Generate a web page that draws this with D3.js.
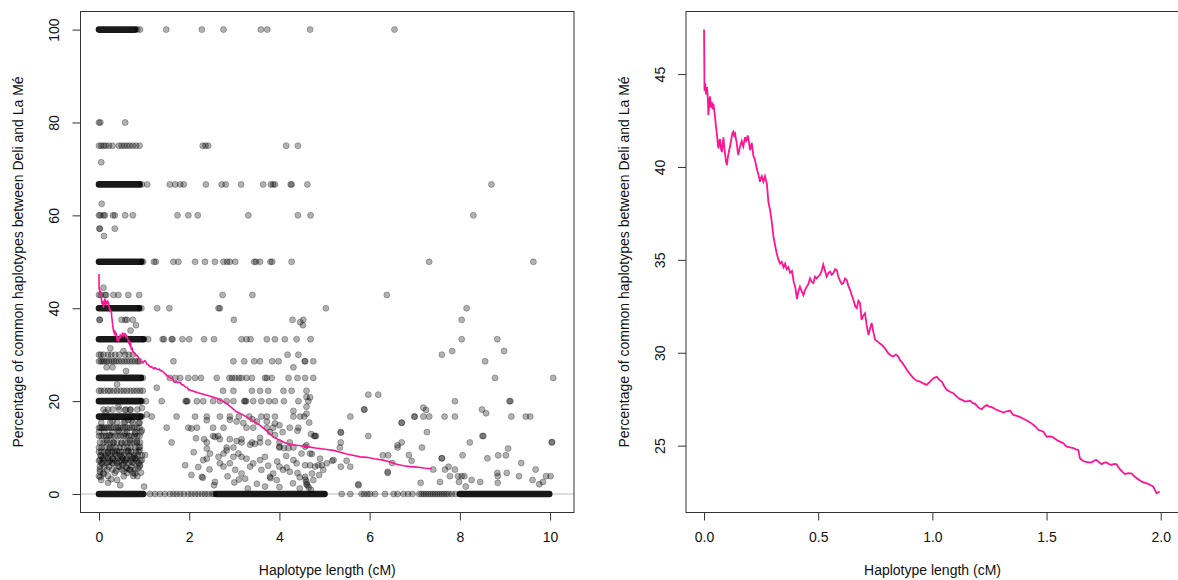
<!DOCTYPE html>
<html>
  <head>
    <meta charset="utf-8">
    <script src="https://d3js.org/d3.v7.min.js"></script>
    <style>
      body { margin: 0; background: #fff; }
      text { font-family: "Liberation Sans", Arial, sans-serif; font-size: 14px; fill: #111; }
    </style>
  </head>
  <body>
    <div id="chart"></div>
    <script>
      // dense stacks of overlapping observations: [percentage, from cM, to cM]
      const stacks = [
        [100, 0, 0.8], [66.67, 0, 0.9], [50, 0, 0.93], [40, 0, 0.88], [33.33, 0, 0.98],
        [25, 0, 0.93], [20, 0, 0.92], [16.67, 0, 0.92], [0, 0, 0.98], [0, 2.6, 5.0], [0, 8.0, 9.98]
      ];

      // points sitting on the common percentage levels
      const rowPct = [100, 80, 75, 71.43, 66.67, 62.5, 60, 57.14, 55.56, 50, 44.44, 42.86, 40, 37.5, 36.36,
        33.33, 30.77, 30, 28.57, 27.27, 25, 22.22, 20, 18.18, 16.67, 15.38, 14.29, 13.33, 12.5, 11.11, 10,
        9.09, 8.33, 7.69, 7.14, 6.67, 5.88, 5.26, 4.55, 3.85, 3.03, 0];
      const rowCM = [
        [0.85, 0.91, 1.49, 2.28, 2.76, 3.59, 3.73, 4.68, 6.55],
        [0, 0.03, 0.58],
        [0, 0.05, 0.1, 0.15, 0.22, 0.3, 0.44, 0.5, 0.56, 0.62, 0.68, 0.75, 0.82, 0.9, 2.3, 2.36, 2.42, 4.15, 4.41],
        [0.05],
        [0.95, 1.07, 1.57, 1.69, 1.8, 1.88, 2.37, 2.72, 2.81, 3.15, 3.64, 3.81, 3.86, 3.9, 4.25, 4.27, 4.62, 8.7],
        [0.06],
        [0, 0.03, 0.1, 0.13, 0.31, 0.35, 0.58, 0.75, 1.74, 1.98, 2.19, 3.31, 4.41, 4.69, 8.3],
        [0.01, 0.02, 0.35],
        [0.11],
        [0.95, 0.98, 1.22, 1.26, 1.65, 1.76, 2.13, 2.35, 2.57, 2.76, 2.84, 2.9, 3.02, 3.44, 3.48, 3.57, 3.8, 3.84, 4.27, 7.32, 9.63],
        [0.1],
        [0, 0.04, 0.13, 0.16, 0.32, 0.43, 0.65, 0.89, 2.74, 3.4, 6.38],
        [0.9, 0.94, 1.29, 1.56, 2.65, 2.68, 5.03, 8.15],
        [0.01, 0.02, 0.5, 0.58, 0.62, 0.75, 2.99, 4.29, 4.53, 8.04],
        [0.82, 4.52],
        [1.0, 1.09, 1.41, 1.44, 1.61, 1.63, 1.85, 2.0, 2.33, 2.55, 3.16, 3.27, 3.36, 3.72, 3.9, 4.12, 4.38, 4.69, 8.04, 8.83],
        [0.54, 7.83, 8.98],
        [0, 0.04, 0.1, 0.2, 0.27, 0.36, 0.45, 0.58, 0.66, 0.75, 4.18, 4.42, 7.6],
        [0, 0.04, 0.08, 0.12, 0.17, 0.22, 0.28, 0.33, 0.38, 0.44, 0.5, 0.56, 0.62, 0.68, 0.74, 0.8, 0.86, 0.9,
          1.65, 2.98, 3.22, 3.44, 3.57, 3.84, 3.98, 4.57, 4.75, 8.56],
        [0.17, 0.3, 4.31],
        [0.97, 1.57, 1.69, 1.8, 1.98, 2.13, 2.26, 2.61, 2.89, 2.95, 3.02, 3.1, 3.16, 3.27, 3.39, 3.68, 3.72, 3.83,
          4.2, 4.4, 4.57, 4.75, 8.78, 10.07],
        [0, 0.05, 0.12, 0.2, 0.25, 0.33, 0.4, 0.48, 0.55, 0.62, 0.7, 0.77, 0.84, 0.91, 0.97, 2.75, 2.98, 3.39,
          3.57, 3.75, 4.09, 4.27, 4.6],
        [0.95, 1.04, 1.39, 1.92, 1.94, 1.96, 2.17, 2.31, 2.53, 2.68, 2.83, 2.98, 3.22, 3.24, 3.26, 3.42, 3.6, 3.77,
          3.9, 4.1, 4.42, 4.64, 7.89, 9.1, 9.12],
        [0.1, 0.2, 0.3, 0.45, 0.6, 0.7, 0.85, 5.88, 8.49],
        [0.95, 1.17, 1.72, 2.13, 2.39, 2.68, 2.9, 3.1, 3.33, 3.6, 3.72, 3.9, 4.31, 4.46, 4.55, 5.57, 6.99, 7.0,
          7.19, 7.32, 7.66, 7.89, 9.14, 9.46, 9.56],
        [0.05, 0.25, 0.4, 0.55, 0.75, 0.9, 4.66, 6.71],
        [0, 0.03, 0.06, 0.1, 0.14, 0.18, 0.22, 0.27, 0.32, 0.38, 0.43, 0.48, 0.53, 0.58, 0.63, 0.68, 0.73, 0.78,
          0.84, 0.9, 1.5, 1.98, 2.17, 2.53, 2.76, 3.27, 3.42, 3.72, 3.86, 4.23, 4.42],
        [0, 0.12, 0.3, 0.45, 0.62, 0.8, 0.93, 3.79, 4.07, 5.36, 7.27],
        [0, 0.05, 0.1, 0.16, 0.22, 0.28, 0.35, 0.42, 0.48, 0.55, 0.6, 0.66, 0.72, 0.78, 0.85, 0.9, 2.53, 2.64,
          4.77, 4.79, 4.81, 5.97, 8.5, 8.52],
        [0.02, 0.1, 0.17, 0.25, 0.32, 0.4, 0.5, 0.58, 0.64, 0.7, 0.78, 0.84, 0.91, 1.61, 2.39, 3.16, 3.39, 3.57,
          3.75, 4.0, 4.23, 5.36, 6.71, 8.22, 10.04],
        [0, 0.06, 0.14, 0.24, 0.3, 0.38, 0.46, 0.55, 0.63, 0.7, 0.8, 0.88, 2.83, 2.98, 4.0, 4.31, 5.34, 6.62, 7.16],
        [0, 0.05, 0.12, 0.2, 0.28, 0.35, 0.45, 0.5, 0.6, 0.65, 0.72, 0.82, 0.88],
        [0.03, 0.15, 0.25, 0.38, 0.47, 0.55, 0.68, 0.78, 0.86, 0.95, 6.29, 6.41, 8.06, 8.85, 9.02],
        [0.08, 0.2, 0.3, 0.42, 0.52, 0.62, 0.75, 0.8, 7.6, 8.61],
        [0, 0.1, 0.24, 0.36, 0.5, 0.58, 0.7, 0.83, 0.92, 5.17, 5.49, 6.93],
        [0.05, 0.18, 0.3, 0.4, 0.55, 0.65, 0.78, 0.88, 6.5, 9.36],
        [0.12, 0.22, 0.45, 0.6, 0.72, 0.9, 5.36, 5.57, 7.75],
        [0.02, 0.3, 0.5, 0.68, 0.8, 7.41, 7.67, 7.89, 9.68],
        [0.1, 0.35, 0.62, 0.75, 6.4, 8.83, 9.04],
        [0, 0.2, 0.55, 0.85, 7.78, 7.96, 8.04, 8.1, 8.84, 9.31, 9.91, 10.01],
        [0.05, 0.4, 8.26, 9.61],
        [1.13, 1.24, 1.35, 1.46, 1.57, 1.65, 1.72, 1.8, 1.88, 1.98, 2.05, 2.13, 2.2, 2.28, 2.35, 2.42, 2.5, 2.55,
          5.38, 5.57, 5.82, 5.88, 5.95, 6.01, 6.12, 6.34, 6.53, 6.62, 6.75, 6.85, 6.95, 7.1, 7.15, 7.2, 7.25, 7.3,
          7.35, 7.4, 7.45, 7.5, 7.55, 7.6, 7.65, 7.7, 7.75, 7.82, 7.9]
      ];

      // points off the common levels: [cM, percentage]
      const loose = [
        [0.02, 7.3], [0.02, 5.9], [0.02, 4.8], [0.03, 3.7], [0.05, 8.2], [0.08, 6.5], [0.1, 4.3], [0.12, 7.8],
        [0.17, 11.6], [0.18, 5.2], [0.2, 8.8], [0.22, 6.9], [0.24, 9.8], [0.24, 12.7], [0.27, 3.2], [0.3, 7.6],
        [0.32, 6.6], [0.32, 11.1], [0.35, 8.7], [0.38, 5.0], [0.4, 9.2], [0.43, 5.9], [0.43, 13.7], [0.43, 18.8],
        [0.45, 7.1], [0.47, 1.9], [0.5, 8.0], [0.5, 10.9], [0.52, 6.3], [0.55, 4.9], [0.58, 13.0], [0.58, 15.5],
        [0.58, 18.1], [0.6, 7.4], [0.62, 5.5], [0.65, 9.3], [0.69, 5.2], [0.69, 11.6], [0.69, 18.1], [0.72, 8.0],
        [0.72, 15.8], [0.74, 6.8], [0.76, 3.9], [0.8, 4.4], [0.8, 13.0], [0.82, 7.7], [0.84, 11.3], [0.86, 5.6],
        [0.9, 9.4], [0.91, 6.2], [0.91, 10.2], [0.93, 4.6], [0.95, 7.3], [0.95, 13.7], [0.95, 18.5], [1.0, 1.6],
        [1.02, 8.4], [0.88, 15.3], [0.3, 15.6], [0.15, 17.6], [0.65, 16.0], [0.2, 2.4], [0.4, 23.6], [0.6, 26.5],
        [0.25, 31.4], [0.7, 35.2], [1.28, 22.9], [1.06, 17.1],
        [1.91, 6.2], [2.05, 4.1], [2.28, 3.7], [2.3, 3.5], [2.05, 14.1], [2.39, 15.9], [2.33, 11.8], [2.39, 9.8],
        [2.46, 8.7], [2.31, 7.3], [2.39, 7.6], [2.57, 2.6], [2.55, 1.9], [2.65, 8.0], [2.68, 6.6], [2.76, 8.7],
        [2.83, 9.4], [2.9, 6.6], [2.98, 8.0], [3.09, 8.7], [3.16, 8.0], [3.27, 7.6], [2.76, 5.9], [3.02, 5.2],
        [3.16, 4.4], [3.24, 3.3], [3.35, 5.9], [3.42, 6.6], [3.57, 7.3], [3.68, 8.0], [3.68, 1.6], [3.79, 3.7],
        [3.8, 3.4], [3.86, 4.4], [3.94, 3.0], [4.0, 5.9], [4.08, 5.2], [4.16, 5.7], [4.23, 4.8], [4.31, 7.3],
        [4.38, 6.6], [4.57, 3.7], [4.6, 2.6], [4.62, 1.9], [4.6, 2.1], [4.58, 3.1], [4.72, 4.4], [4.79, 5.9],
        [4.49, 8.7], [4.57, 10.2], [4.68, 8.7], [4.0, 10.2], [4.1, 9.9], [4.2, 9.9], [3.9, 12.7],
        [4.4, 13.6], [4.7, 12.9], [3.57, 12.1], [3.46, 10.8], [3.35, 10.6], [3.16, 11.8], [3.05, 11.4],
        [2.9, 11.8], [2.68, 11.8], [2.57, 12.3], [2.9, 16.0], [3.05, 15.6], [3.2, 15.3], [3.4, 16.1], [3.5, 15.6],
        [3.72, 15.6], [3.9, 15.2], [4.0, 14.8], [4.31, 17.9], [4.6, 17.3], [4.6, 20.9], [4.68, 20.8], [4.6, 18.8],
        [4.6, 10.5], [4.72, 8.6], [4.57, 6.2], [4.68, 6.2], [4.86, 6.2], [4.94, 6.2], [4.97, 5.2], [4.88, 4.1],
        [4.75, 3.0], [3.0, 2.5], [3.3, 1.2], [3.5, 2.2], [2.85, 3.8], [3.1, 3.1], [4.3, 2.3], [4.45, 3.6],
        [4.0, 1.5], [2.45, 5.3], [2.2, 5.8], [2.1, 9.0], [2.15, 12.0], [3.6, 5.2], [3.75, 6.1], [3.95, 7.0],
        [4.15, 8.2], [4.4, 4.5], [4.45, 1.2], [4.65, 1.4], [4.7, 0.9], [4.9, 7.6], [5.05, 6.6], [5.2, 7.3],
        [5.36, 13.2], [5.75, 2.1], [5.75, 1.9], [5.88, 18.2], [5.97, 21.4], [6.19, 21.4], [6.4, 4.8], [6.62, 10.5],
        [6.71, 15.3], [6.87, 8.4], [7.13, 2.4], [7.19, 18.6], [7.25, 18.1], [7.56, 2.6], [7.6, 7.7], [7.98, 2.6],
        [8.13, 1.6], [8.45, 2.6], [8.58, 17.4], [8.84, 2.4], [9.07, 9.8], [9.76, 2.1], [9.84, 2.6], [10.04, 11.2],
        [4.56, 28.6], [4.46, 37.0]
      ];

      // running mean of the percentage along haplotype length: [cM, percentage]
      const runningMean = [
        [0, 47.4], [0.002, 44.1], [0.005, 44.5], [0.009, 43.9], [0.013, 44.3], [0.017, 43.6], [0.019, 42.8],
        [0.023, 43.5], [0.026, 43.8], [0.03, 43.2], [0.034, 43.5], [0.038, 43.1], [0.041, 43.4], [0.045, 43.0],
        [0.048, 42.7], [0.052, 42.2], [0.056, 41.8], [0.06, 41.3], [0.063, 41.0], [0.067, 41.4], [0.07, 41.5],
        [0.074, 41.0], [0.078, 40.8], [0.082, 41.3], [0.085, 41.6], [0.089, 41.0], [0.092, 40.7], [0.096, 40.3],
        [0.1, 40.1], [0.104, 40.5], [0.107, 40.7], [0.11, 40.9], [0.114, 41.1], [0.118, 41.4], [0.121, 41.6],
        [0.125, 41.85], [0.128, 41.9], [0.132, 41.7], [0.136, 41.8], [0.14, 41.5], [0.143, 41.3], [0.147, 40.9],
        [0.15, 40.65], [0.154, 40.9], [0.158, 41.1], [0.162, 41.3], [0.165, 41.4], [0.169, 41.2], [0.172, 41.1],
        [0.176, 41.4], [0.18, 41.6], [0.184, 41.4], [0.188, 41.5], [0.191, 41.7], [0.194, 41.55], [0.198, 41.2],
        [0.201, 40.9], [0.205, 41.1], [0.209, 41.3], [0.213, 40.9], [0.216, 40.6], [0.223, 40.4], [0.231, 39.9],
        [0.238, 39.6], [0.245, 39.2], [0.249, 39.4], [0.253, 39.5], [0.26, 39.2], [0.267, 39.5], [0.275, 39.1],
        [0.282, 38.1], [0.289, 37.7], [0.297, 37.0], [0.304, 36.25], [0.311, 35.8], [0.318, 35.36], [0.326, 35.0],
        [0.333, 34.8], [0.34, 34.9], [0.348, 34.6], [0.355, 34.8], [0.362, 34.5], [0.369, 34.6], [0.377, 34.3],
        [0.385, 34.4], [0.393, 33.8], [0.4, 33.5], [0.407, 32.9], [0.413, 33.3], [0.42, 33.56], [0.428, 33.3],
        [0.435, 33.1], [0.443, 33.4], [0.45, 33.56], [0.457, 33.7], [0.464, 34.0], [0.472, 33.8], [0.479, 33.75],
        [0.486, 34.1], [0.493, 34.0], [0.5, 34.1], [0.508, 34.2], [0.515, 34.4], [0.522, 34.75], [0.53, 34.4],
        [0.537, 34.1], [0.545, 34.3], [0.552, 34.37], [0.559, 34.2], [0.566, 34.28], [0.574, 34.5], [0.581, 34.46],
        [0.588, 34.1], [0.595, 33.9], [0.603, 33.7], [0.61, 33.75], [0.618, 34.0], [0.625, 33.9], [0.632, 33.6],
        [0.639, 33.4], [0.647, 33.1], [0.654, 32.85], [0.662, 32.5], [0.669, 32.4], [0.676, 32.8], [0.683, 32.67],
        [0.69, 31.77], [0.697, 32.0], [0.705, 32.13], [0.712, 31.5], [0.72, 30.96], [0.727, 31.3], [0.734, 31.6],
        [0.742, 31.1], [0.749, 30.7], [0.76, 30.6], [0.77, 30.5], [0.781, 30.4], [0.792, 30.24], [0.8, 30.1],
        [0.807, 29.97], [0.818, 29.85], [0.829, 29.8], [0.84, 29.9], [0.851, 29.8], [0.858, 29.6], [0.866, 29.5],
        [0.877, 29.3], [0.888, 29.08], [0.902, 28.85], [0.917, 28.63], [0.931, 28.5], [0.946, 28.45], [0.96, 28.35],
        [0.975, 28.27], [0.986, 28.4], [0.997, 28.54], [1.008, 28.65], [1.019, 28.7], [1.03, 28.55], [1.041, 28.45],
        [1.052, 28.2], [1.063, 28.0], [1.077, 27.9], [1.092, 27.82], [1.106, 27.65], [1.121, 27.5], [1.132, 27.45],
        [1.143, 27.37], [1.154, 27.4], [1.165, 27.42], [1.176, 27.3], [1.187, 27.25], [1.2, 27.07], [1.208, 27.0],
        [1.216, 26.96], [1.227, 27.1], [1.238, 27.18], [1.249, 27.1], [1.26, 27.07], [1.271, 27.0], [1.282, 26.92],
        [1.297, 26.85], [1.311, 26.78], [1.326, 26.85], [1.34, 26.89], [1.348, 26.75], [1.355, 26.65], [1.37, 26.6],
        [1.384, 26.53], [1.399, 26.45], [1.413, 26.35], [1.428, 26.25], [1.443, 26.11], [1.454, 26.0],
        [1.464, 25.85], [1.475, 25.8], [1.486, 25.75], [1.494, 25.6], [1.501, 25.48], [1.512, 25.5],
        [1.523, 25.48], [1.534, 25.4], [1.545, 25.3], [1.56, 25.2], [1.574, 25.13], [1.582, 25.0], [1.589, 24.95],
        [1.603, 24.9], [1.618, 24.86], [1.628, 24.8], [1.639, 24.77], [1.643, 24.5], [1.646, 24.32], [1.657, 24.2],
        [1.668, 24.14], [1.683, 24.1], [1.698, 24.1], [1.709, 24.2], [1.719, 24.23], [1.73, 24.1], [1.741, 24.0],
        [1.752, 24.08], [1.763, 24.1], [1.774, 24.0], [1.785, 23.96], [1.796, 24.02], [1.807, 24.0],
        [1.814, 23.85], [1.821, 23.73], [1.832, 23.6], [1.843, 23.47], [1.858, 23.52], [1.873, 23.5],
        [1.884, 23.35], [1.895, 23.24], [1.906, 23.15], [1.917, 23.06], [1.931, 23.0], [1.945, 22.94],
        [1.956, 22.87], [1.967, 22.8], [1.975, 22.6], [1.982, 22.44], [1.99, 22.5], [1.996, 22.5],
        [2.1, 22.1], [2.2, 21.8], [2.31, 21.5], [2.45, 21.1], [2.61, 20.6], [2.72, 20.1], [2.83, 19.5],
        [2.94, 18.6], [3.05, 17.7], [3.16, 17.2], [3.27, 16.6], [3.42, 15.7], [3.57, 14.8], [3.72, 13.6],
        [3.86, 12.3], [4.0, 11.6], [4.16, 10.9], [4.3, 10.6], [4.46, 10.4], [4.61, 10.2], [4.8, 9.9], [5.05, 9.6],
        [5.2, 9.4], [5.35, 9.0], [5.49, 8.6], [5.65, 8.3], [5.79, 8.0], [5.94, 7.9], [6.1, 7.6], [6.3, 7.3],
        [6.45, 6.9], [6.6, 6.4], [6.75, 6.1], [6.9, 5.9], [7.04, 5.8], [7.2, 5.6], [7.3, 5.5], [7.38, 5.5]
      ];

      const leftXTicks = [0, 2, 4, 6, 8, 10];
      const leftYTicks = [0, 20, 40, 60, 80, 100];
      const rightXTicks = [0, 0.5, 1, 1.5, 2];
      const rightYTicks = [25, 30, 35, 40, 45];

      const xTitle = "Haplotype length (cM)";
      const yTitle = "Percentage of common haplotypes between Deli and La Mé";
      const pink = "#ff1493";

      const width = 1178;
      const height = 580;

      const svg = d3
        .select("#chart")
        .append("svg")
        .attr("width", width)
        .attr("height", height);

      function panel(opts) {
        const x = d3.scaleLinear().domain(opts.xDomain).range([opts.left, opts.right]);
        const y = d3.scaleLinear().domain(opts.yDomain).range([opts.bottom, opts.top]);
        const g = svg.append("g");

        // axes: ticks outside the box, R style
        const xa = g.append("g")
          .attr("transform", `translate(0,${opts.bottom})`)
          .call(d3.axisBottom(x).tickValues(opts.xTicks).tickSize(8).tickPadding(12).tickFormat(opts.xFormat));
        const ya = g.append("g")
          .attr("transform", `translate(${opts.left},0)`)
          .call(d3.axisLeft(y).tickValues(opts.yTicks).tickSize(8).tickFormat(d3.format("d")));
        [xa, ya].forEach((a) => {
          a.select(".domain").remove();
          a.selectAll("line").attr("stroke", "#333");
          a.selectAll("text").style("font-size", "14px").attr("fill", "#111");
        });
        ya.selectAll("text")
          .attr("transform", "rotate(-90)")
          .attr("x", 0)
          .attr("y", -26)
          .attr("dy", "0.35em")
          .attr("text-anchor", "middle");

        g.append("text")
          .attr("x", (opts.left + opts.right) / 2)
          .attr("y", opts.bottom + 62)
          .attr("text-anchor", "middle")
          .text(xTitle);
        g.append("text")
          .attr("transform", `translate(${opts.left - 62},${(opts.top + opts.bottom) / 2}) rotate(-90)`)
          .attr("dy", "0.35em")
          .attr("text-anchor", "middle")
          .text(yTitle);

        const plot = g.append("g");
        g.append("rect")
          .attr("x", opts.left)
          .attr("y", opts.top)
          .attr("width", opts.right - opts.left)
          .attr("height", opts.bottom - opts.top)
          .attr("fill", "none")
          .attr("stroke", "#333")
          .attr("stroke-width", 1);
        return { x, y, plot };
      }

      // left: all haplotypes
      const L = panel({
        left: 80.5, right: 574, top: 11.5, bottom: 512.5,
        xDomain: [-0.41, 10.53], yDomain: [-3.98, 103.9],
        xTicks: leftXTicks, yTicks: leftYTicks, xFormat: d3.format("d")
      });

      L.plot.append("line")
        .attr("x1", 80.5).attr("x2", 574)
        .attr("y1", L.y(0)).attr("y2", L.y(0))
        .attr("stroke", "#bbb");

      L.plot.selectAll(".stack")
        .data(stacks)
        .enter()
        .append("line")
        .attr("x1", (d) => L.x(d[1]))
        .attr("x2", (d) => L.x(d[2]))
        .attr("y1", (d) => L.y(d[0]))
        .attr("y2", (d) => L.y(d[0]))
        .attr("stroke", "#000")
        .attr("stroke-opacity", 0.9)
        .attr("stroke-width", 6.6)
        .attr("stroke-linecap", "round");

      const points = [];
      rowPct.forEach((p, i) => rowCM[i].forEach((c) => points.push([c, p])));
      loose.forEach((d) => points.push(d));

      L.plot.selectAll("circle")
        .data(points)
        .enter()
        .append("circle")
        .attr("cx", (d) => L.x(d[0]))
        .attr("cy", (d) => L.y(d[1]))
        .attr("r", 3)
        .attr("fill", "#000")
        .attr("fill-opacity", 0.3)
        .attr("stroke", "#000")
        .attr("stroke-opacity", 0.3)
        .attr("stroke-width", 0.9);

      const lineL = d3.line().x((d) => L.x(d[0])).y((d) => L.y(d[1]));
      L.plot.append("path")
        .attr("d", lineL(runningMean))
        .attr("fill", "none")
        .attr("stroke", pink)
        .attr("stroke-width", 1.6);

      // right: zoom on the first 2 cM
      const R = panel({
        left: 686, right: 1179, top: 11.5, bottom: 512.5,
        xDomain: [-0.079, 2.08], yDomain: [21.4, 48.37],
        xTicks: rightXTicks, yTicks: rightYTicks, xFormat: d3.format(".1f")
      });

      const lineR = d3.line().x((d) => R.x(d[0])).y((d) => R.y(d[1]));
      R.plot.append("path")
        .attr("d", lineR(runningMean.filter((d) => d[0] <= 2)))
        .attr("fill", "none")
        .attr("stroke", pink)
        .attr("stroke-width", 1.8);
    </script>
  </body>
</html>
